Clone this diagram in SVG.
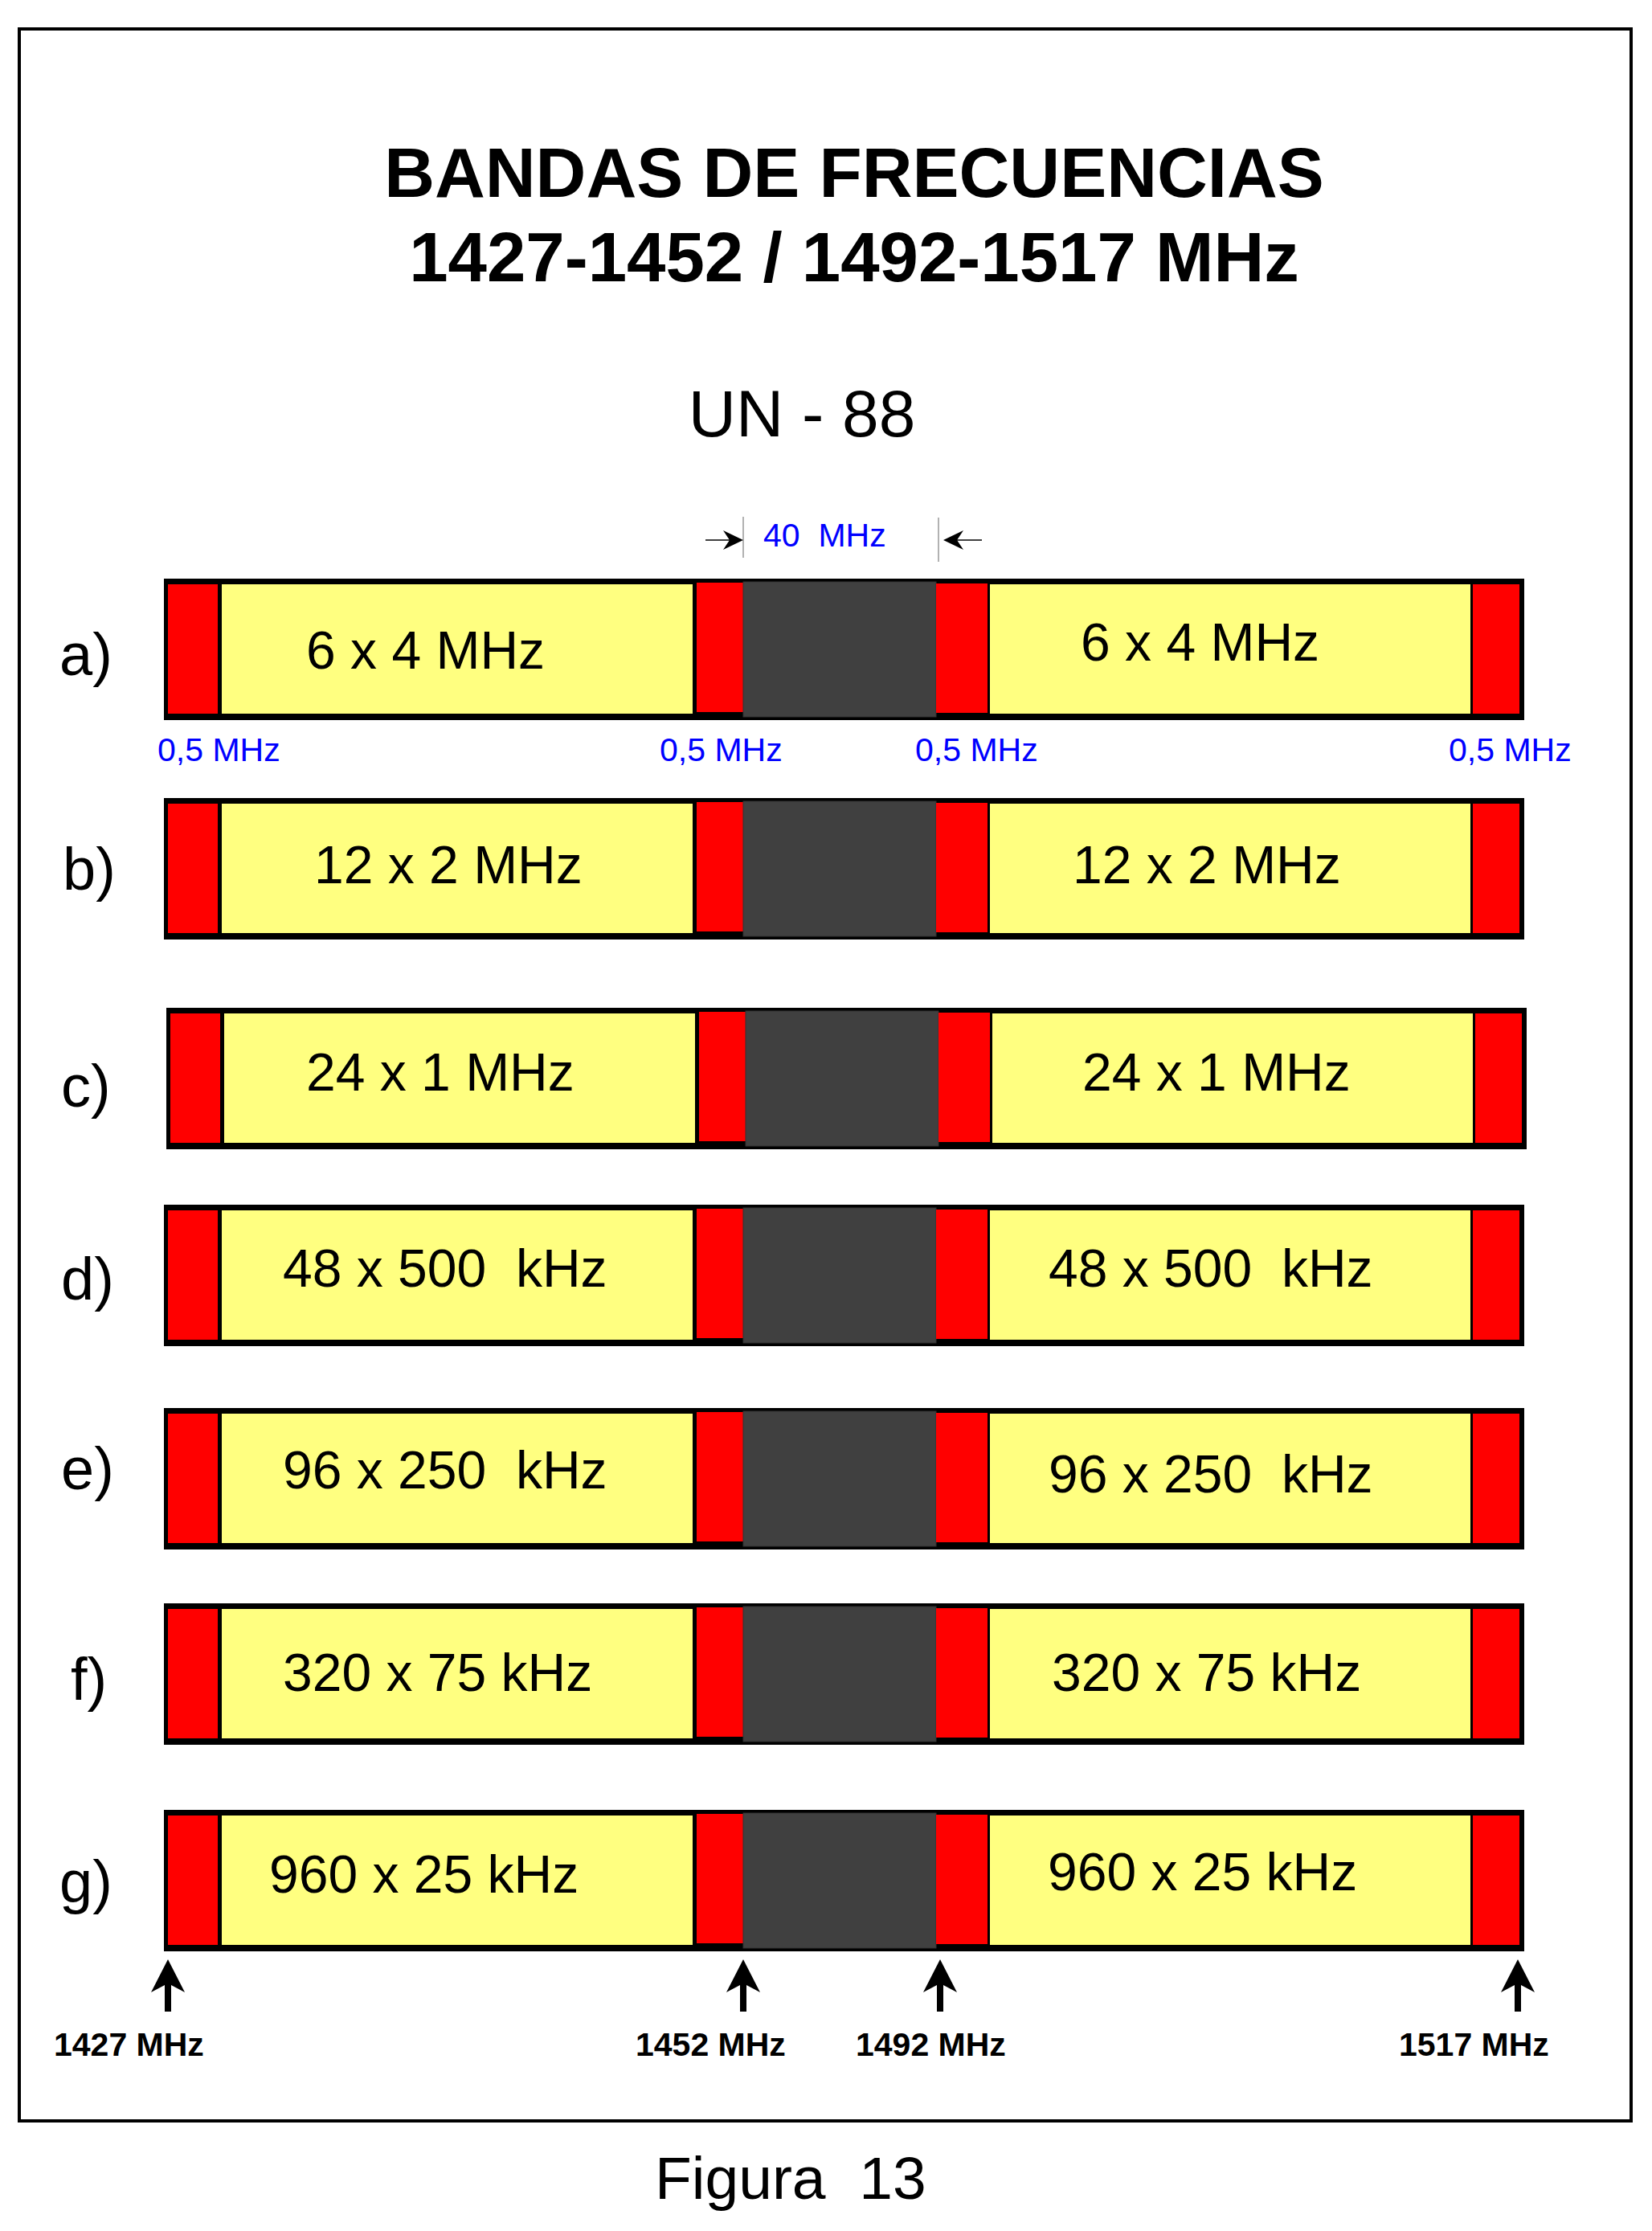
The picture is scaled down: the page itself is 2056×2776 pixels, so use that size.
<svg xmlns="http://www.w3.org/2000/svg" width="2056" height="2776" viewBox="0 0 2056 2776">
<style>
text{font-family:"Liberation Sans",Arial,sans-serif;white-space:pre}
.title{font-size:87px;font-weight:bold;text-anchor:middle;fill:#000}
.sub{font-size:82px;text-anchor:middle;fill:#000}
.lbl{font-size:74px;fill:#000}
.band{font-size:66px;fill:#000}
.blue{font-size:41px;fill:#0000ff}
.freq{font-size:41px;font-weight:bold;fill:#000}
.fig{font-size:75px;fill:#000}
.box{fill:#000}
.red{fill:#ff0000}
.yel{fill:#ffff80}
.gap{fill:#404040;stroke:#333;stroke-width:1}
.tick{stroke:#999;stroke-width:1.5}
</style>
<defs>
<g id="row">
<rect class="box" x="204" y="0" width="1693" height="176"/>
<rect class="red" x="209" y="7" width="62" height="161"/>
<rect class="yel" x="276" y="7" width="586" height="161"/>
<rect class="red" x="867" y="5" width="61" height="161"/>
<rect class="gap" x="925" y="4" width="240" height="168"/>
<rect class="red" x="1165" y="6" width="64" height="161"/>
<rect class="yel" x="1232" y="7" width="598" height="161"/>
<rect class="red" x="1833" y="7" width="58" height="161"/>
</g>
<path id="uparrow" d="M0,0 L21,41 L4,32 L4,65 L-4,65 L-4,32 L-21,41 Z" fill="#000"/>
</defs>

<rect x="24" y="36" width="2006" height="2603" fill="none" stroke="#000" stroke-width="4"/>

<g id="title">
<text class="title" x="1063" y="245">BANDAS DE FRECUENCIAS</text>
<text class="title" x="1063" y="350">1427-1452 / 1492-1517 MHz</text>
</g>
<text id="subtitle" class="sub" x="998" y="543">UN - 88</text>

<g id="gap-label">
<line class="tick" x1="925" y1="643" x2="925" y2="694"/>
<line x1="878" y1="672" x2="915" y2="672" stroke="#000" stroke-width="1.5"/>
<path d="M925,672 L900,660 L908,672 L900,684 Z" fill="#000"/>
<line class="tick" x1="1168" y1="644" x2="1168" y2="699"/>
<line x1="1184" y1="672" x2="1222" y2="672" stroke="#000" stroke-width="1.5"/>
<path d="M1174,672 L1199,660 L1191,672 L1199,684 Z" fill="#000"/>
<text class="blue" x="950" y="680">40  MHz</text>
</g>

<g id="row-a">
<use href="#row" transform="translate(0,720)"/>
<text class="lbl" x="74" y="840">a)</text>
<text class="band" x="381" y="832">6 x 4 MHz</text>
<text class="band" x="1345" y="822">6 x 4 MHz</text>
</g>
<g id="guard-labels">
<text class="blue" x="196" y="947">0,5 MHz</text>
<text class="blue" x="821" y="947">0,5 MHz</text>
<text class="blue" x="1139" y="947">0,5 MHz</text>
<text class="blue" x="1803" y="947">0,5 MHz</text>
</g>
<g id="row-b">
<use href="#row" transform="translate(0,993)"/>
<text class="lbl" x="78" y="1107">b)</text>
<text class="band" x="391" y="1099">12 x 2 MHz</text>
<text class="band" x="1335" y="1099">12 x 2 MHz</text>
</g>
<g id="row-c">
<use href="#row" transform="translate(3,1254)"/>
<text class="lbl" x="76" y="1377">c)</text>
<text class="band" x="381" y="1357">24 x 1 MHz</text>
<text class="band" x="1347" y="1357">24 x 1 MHz</text>
</g>
<g id="row-d">
<use href="#row" transform="translate(0,1499)"/>
<text class="lbl" x="76" y="1617">d)</text>
<text class="band" x="352" y="1601">48 x 500  kHz</text>
<text class="band" x="1305" y="1601">48 x 500  kHz</text>
</g>
<g id="row-e">
<use href="#row" transform="translate(0,1752)"/>
<text class="lbl" x="76" y="1853">e)</text>
<text class="band" x="352" y="1852">96 x 250  kHz</text>
<text class="band" x="1305" y="1857">96 x 250  kHz</text>
</g>
<g id="row-f">
<use href="#row" transform="translate(0,1995)"/>
<text class="lbl" x="88" y="2115">f)</text>
<text class="band" x="352" y="2104">320 x 75 kHz</text>
<text class="band" x="1309" y="2104">320 x 75 kHz</text>
</g>
<g id="row-g">
<use href="#row" transform="translate(0,2252)"/>
<text class="lbl" x="74" y="2367">g)</text>
<text class="band" x="335" y="2355">960 x 25 kHz</text>
<text class="band" x="1304" y="2352">960 x 25 kHz</text>
</g>

<g id="markers">
<use href="#uparrow" transform="translate(209,2438)"/>
<use href="#uparrow" transform="translate(925,2438)"/>
<use href="#uparrow" transform="translate(1170,2438)"/>
<use href="#uparrow" transform="translate(1889,2438)"/>
<text class="freq" x="67" y="2558">1427 MHz</text>
<text class="freq" x="791" y="2558">1452 MHz</text>
<text class="freq" x="1065" y="2558">1492 MHz</text>
<text class="freq" x="1741" y="2558">1517 MHz</text>
</g>

<text id="caption" class="fig" x="815" y="2736">Figura  13</text>
</svg>
